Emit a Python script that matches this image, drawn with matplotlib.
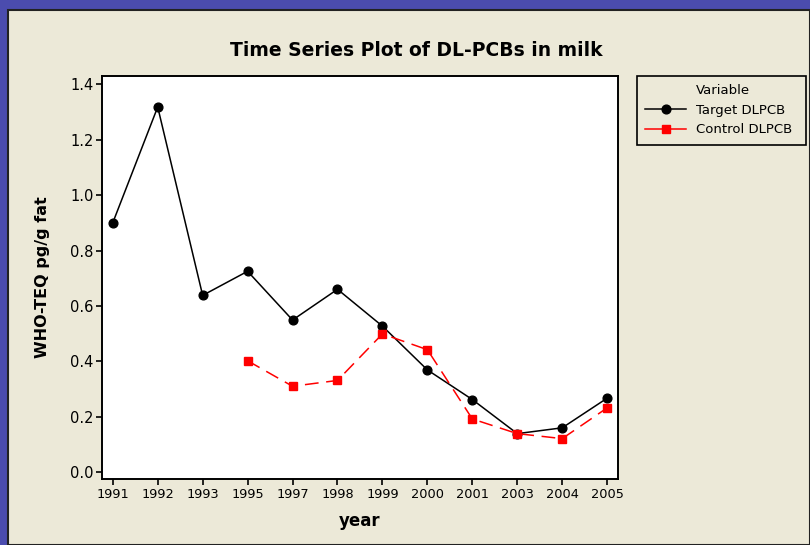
import matplotlib
matplotlib.use('Agg')
import matplotlib.pyplot as plt
from matplotlib.lines import Line2D
from matplotlib.patches import Rectangle

years = ['1991', '1992', '1993', '1995', '1997', '1998', '1999',
         '2000', '2001', '2003', '2004', '2005']
target = [0.900, 1.318, 0.638, 0.725, 0.549, 0.660, 0.527,
          0.369, 0.262, 0.139, 0.160, 0.267]
# control starts at 1995
controlYears = ['1995', '1997', '1998', '1999', '2000', '2001', '2003', '2004', '2005']
control = [0.402, 0.310, 0.331, 0.499, 0.442, 0.192, 0.139, 0.121, 0.232]

plt.rcParams['font.family'] = 'DejaVu Sans'
panelCol = '#ece9d8'

fig = plt.figure(figsize=(8.1, 5.45), dpi=100)
fig.patch.set_facecolor('#4b4cae')

# beige minitab panel
fig.patches.append(Rectangle((8/810., 0), 802/810., 535/545., transform=fig.transFigure,
                             facecolor=panelCol, edgecolor='#222222', linewidth=1.5, zorder=-5))

ax = fig.add_axes([0.1259, 0.122, 0.637, 0.7386])
ax.set_facecolor('white')

xpos = list(range(len(years)))
cpos = [years.index(y) for y in controlYears]

ax.plot(xpos, target, color='black', linewidth=1.1, marker='o', markersize=6.3,
        label='Target DLPCB')
ax.plot(cpos, control, color='red', linewidth=1.1, dashes=(9, 5), marker='s',
        markersize=5.3, label='Control DLPCB')

ax.set_xlim(-0.24, 11.24)
ax.set_ylim(-0.023, 1.43)
ax.set_xticks(xpos)
ax.set_xticklabels(years)
ax.set_yticks([0.0, 0.2, 0.4, 0.6, 0.8, 1.0, 1.2, 1.4])
ax.set_yticklabels(['0.0', '0.2', '0.4', '0.6', '0.8', '1.0', '1.2', '1.4'])
ax.tick_params(axis='x', direction='out', length=4, width=1.2, labelsize=9.3, pad=3)
ax.tick_params(axis='y', direction='out', length=4, width=1.2, labelsize=10.5, pad=2)
for sp in ax.spines.values():
  sp.set_linewidth(1.4)

ax.set_xlabel('year', fontsize=12, fontweight='bold')
ax.set_ylabel('WHO-TEQ pg/g fat', fontsize=11.5, fontweight='bold')
ax.xaxis.set_label_coords(0.5, -0.082)
ax.yaxis.set_label_coords(-0.101, 0.5)

fig.text(0.514, 0.908, 'Time Series Plot of DL-PCBs in milk', ha='center', va='center',
         fontsize=13.5, fontweight='bold')

handles = [Line2D([], [], linestyle='none'),
           Line2D([], [], color='black', marker='o', markersize=6.3, linewidth=1.1),
           Line2D([], [], color='red', marker='s', markersize=5.3, linewidth=1.1)]
labels = ['Variable', 'Target DLPCB', 'Control DLPCB']
leg = fig.legend(handles, labels, loc='upper left',
                 bbox_to_anchor=(0.7864, 0.7394, 0.2086, 0.1212), mode='expand',
                 borderaxespad=0, fontsize=9.5, frameon=True, fancybox=False,
                 handlelength=3.1, handletextpad=0.75, labelspacing=0.5,
                 borderpad=0.62, framealpha=1)
leg.get_frame().set_edgecolor('black')
leg.get_frame().set_facecolor(panelCol)
leg.get_frame().set_linewidth(1.2)

fig.savefig('out.png', dpi=100, facecolor=fig.get_facecolor())
